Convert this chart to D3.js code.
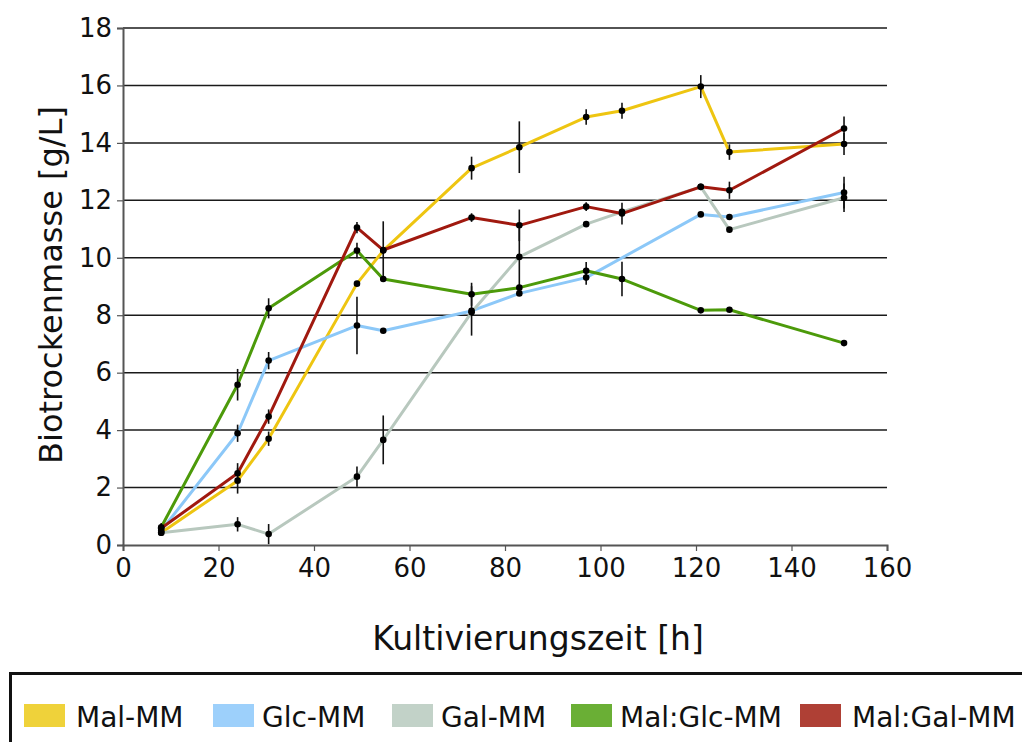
<!DOCTYPE html>
<html lang="de">
<head>
<meta charset="UTF-8">
<title>Biotrockenmasse</title>
<script src="https://d3js.org/d3.v7.min.js"></script>
<style>
    body { margin: 0; background: #fff; }
    svg { display: block; font-family: "DejaVu Sans", Verdana, sans-serif; }
</style>
</head>
<body>
<svg id="chart" width="1022" height="742"></svg>
<script>
// Kultivierungszeit [h]
const times = [8, 24, 30.5, 49, 54.5, 73, 83, 97, 104.5, 121, 127, 151];

// Biotrockenmasse [g/L] je Medium (null = kein Messpunkt)
const malMM  = [0.43, 2.24, 3.70, 9.10, 10.25, 13.12, 13.85, 14.90, 15.12, 15.96, 13.68, 13.96];
const glcMM  = [0.50, 3.89, 6.42, 7.64, 7.46, 8.15, 8.76, 9.31, null, 11.51, 11.42, 12.27];
const galMM  = [0.43, 0.72, 0.38, 2.38, 3.66, 8.10, 10.03, 11.17, 11.60, 12.47, 10.98, 12.09];
const malGlc = [0.62, 5.58, 8.24, 10.25, 9.26, 8.73, 8.96, 9.55, 9.26, 8.17, 8.19, 7.03];
const malGal = [0.58, 2.50, 4.47, 11.05, 10.27, 11.40, 11.13, 11.78, 11.54, 12.47, 12.35, 14.50];

// Standardabweichungen
const malMMErr  = [0.10, 0.45, 0.25, 0, 0, 0.40, 0.90, 0.27, 0.28, 0.40, 0.27, 0.38];
const glcMMErr  = [0.10, 0.30, 0.30, 1.00, 0.05, 0.86, 0.05, 0.25, null, 0.05, 0.05, 0.55];
const galMMErr  = [0.10, 0.25, 0.35, 0.35, 0.85, 0, 1.00, 0.05, 0, 0, 0.05, 0.50];
const malGlcErr = [0.15, 0.55, 0.35, 0.27, 0.10, 0.40, 0.10, 0.30, 0.60, 0.05, 0.05, 0];
const malGalErr = [0.15, 0.35, 0.25, 0.20, 1.00, 0.15, 0.55, 0.15, 0.38, 0.05, 0.30, 0.42];

const seriesNames = ["Mal-MM", "Glc-MM", "Gal-MM", "Mal:Glc-MM", "Mal:Gal-MM"];
const xTicks = [0, 20, 40, 60, 80, 100, 120, 140, 160];
const yTicks = [0, 2, 4, 6, 8, 10, 12, 14, 16, 18];

const lineColors   = ["#EEC511", "#8CC8F8", "#B8C8BE", "#4C9A0A", "#A0190F"];
const swatchColors = ["#EFD23A", "#9DD0FB", "#C2D2C8", "#6AAF35", "#AF4035"];

const series = [
    { name: seriesNames[0], values: malMM,  err: malMMErr },
    { name: seriesNames[1], values: glcMM,  err: glcMMErr },
    { name: seriesNames[2], values: galMM,  err: galMMErr },
    { name: seriesNames[3], values: malGlc, err: malGlcErr },
    { name: seriesNames[4], values: malGal, err: malGalErr }
].map((s, i) => ({
    ...s,
    color: lineColors[i],
    swatch: swatchColors[i],
    points: times.map((t, j) => ({ t, v: s.values[j], e: s.err[j] })).filter(p => p.v != null)
}));

const svg = d3.select("#chart");
const x = d3.scaleLinear().domain([0, 160]).range([123, 887]);
const y = d3.scaleLinear().domain([0, 18]).range([545, 28]);

// horizontale Gitterlinien
svg.append("g")
    .selectAll("line")
    .data(yTicks.filter(d => d > 0))
    .join("line")
    .attr("x1", x(0)).attr("x2", x(160))
    .attr("y1", d => y(d)).attr("y2", d => y(d))
    .attr("stroke", "#1a1a1a")
    .attr("stroke-width", 1.5);

// Achsen
const yAxis = svg.append("g")
    .attr("transform", `translate(${x(0)},0)`)
    .call(d3.axisLeft(y).tickValues(yTicks).tickSize(6).tickPadding(5));
const xAxis = svg.append("g")
    .attr("transform", `translate(0,${y(0)})`)
    .call(d3.axisBottom(x).tickValues(xTicks).tickSize(6).tickPadding(5));

[yAxis, xAxis].forEach(a => {
    a.select(".domain").attr("stroke", "#555").attr("stroke-width", 2);
    a.selectAll(".tick line").attr("stroke", "#555").attr("stroke-width", 1.2);
    a.selectAll(".tick text")
        .attr("fill", "#111")
        .style("font-size", "26px")
        .style("font-family", "'DejaVu Sans', Verdana, sans-serif");
});
xAxis.selectAll(".tick text").attr("dy", "0.8em");

// Achsentitel
svg.append("text")
    .attr("transform", "translate(62,285) rotate(-90)")
    .attr("text-anchor", "middle")
    .attr("fill", "#111")
    .style("font-size", "32px")
    .text("Biotrockenmasse [g/L]");

svg.append("text")
    .attr("x", 538).attr("y", 650)
    .attr("text-anchor", "middle")
    .attr("fill", "#111")
    .style("font-size", "33px")
    .text("Kultivierungszeit [h]");

// Linien
const line = d3.line().x(d => x(d.t)).y(d => y(d.v));
svg.append("g")
    .selectAll("path")
    .data(series)
    .join("path")
    .attr("d", d => line(d.points))
    .attr("fill", "none")
    .attr("stroke", d => d.color)
    .attr("stroke-width", 3)
    .attr("stroke-linejoin", "round");

// Fehlerbalken
const allPoints = series.flatMap(s => s.points);
svg.append("g")
    .selectAll("line")
    .data(allPoints.filter(p => p.e > 0))
    .join("line")
    .attr("x1", d => x(d.t)).attr("x2", d => x(d.t))
    .attr("y1", d => y(d.v - d.e)).attr("y2", d => y(d.v + d.e))
    .attr("stroke", "#111")
    .attr("stroke-width", 1.6);

// Messpunkte
svg.append("g")
    .selectAll("circle")
    .data(allPoints)
    .join("circle")
    .attr("cx", d => x(d.t)).attr("cy", d => y(d.v))
    .attr("r", 3.3)
    .attr("fill", "#000");

// Legende
svg.append("rect")
    .attr("x", 10.5).attr("y", 673.5)
    .attr("width", 1030).attr("height", 100)
    .attr("fill", "none")
    .attr("stroke", "#111")
    .attr("stroke-width", 3);

const legendX = [24, 213, 392, 571, 800];
const legend = svg.append("g")
    .selectAll("g")
    .data(series)
    .join("g")
    .attr("transform", (d, i) => `translate(${legendX[i]},704)`);
legend.append("rect")
    .attr("width", 41).attr("height", 23)
    .attr("fill", d => d.swatch);
legend.append("text")
    .attr("x", (d, i) => (i === 0 || i === 4) ? 52 : 49)
    .attr("y", 23)
    .attr("fill", "#111")
    .style("font-size", "28px")
    .text(d => d.name);
</script>
</body>
</html>
